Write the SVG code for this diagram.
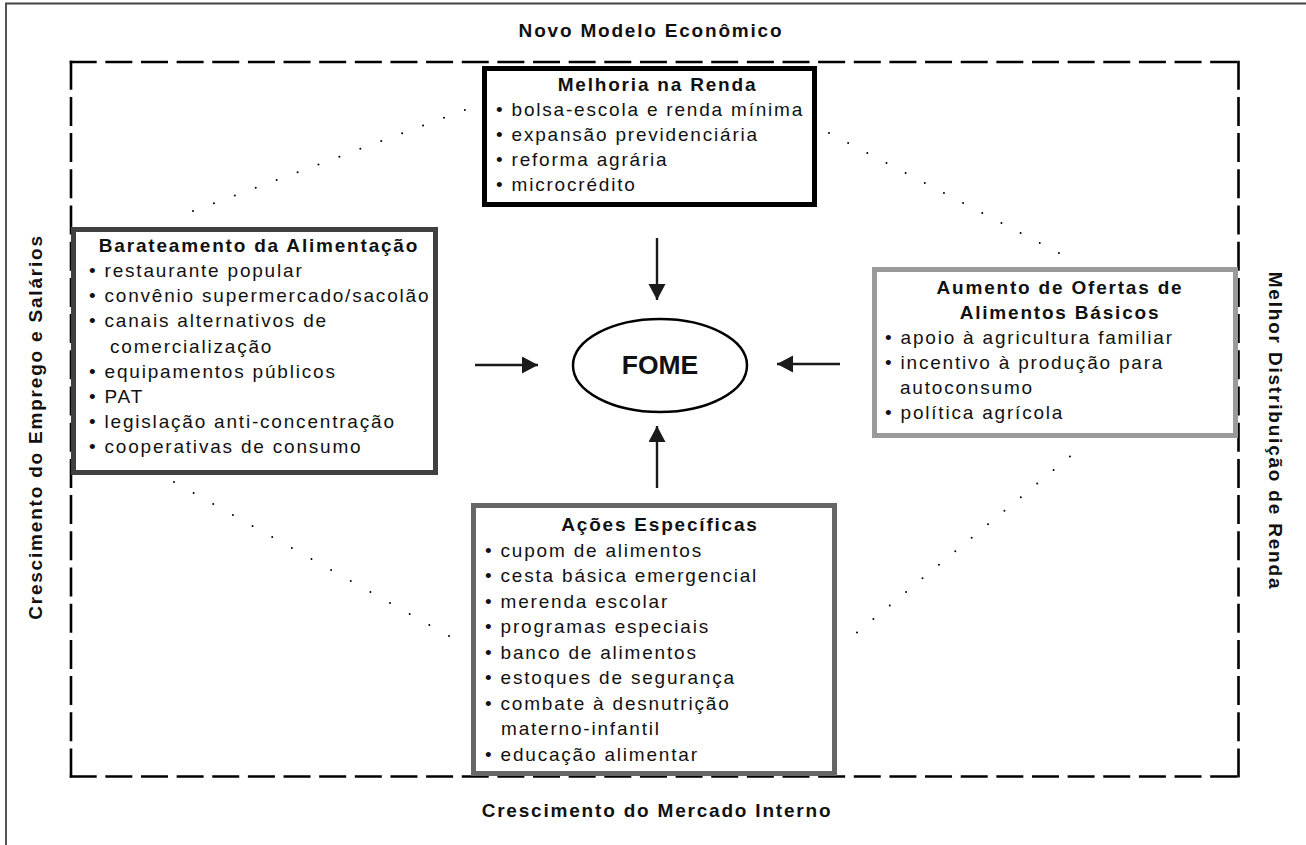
<svg xmlns="http://www.w3.org/2000/svg" width="1306" height="845" viewBox="0 0 1306 845">
<defs>
<style>
.t{font-family:"Liberation Sans",Arial,Helvetica,sans-serif;font-size:19px;letter-spacing:1.8px;fill:#111}
.b{font-weight:bold}
.c{text-anchor:middle}
.box{fill:#fff;stroke-width:5}
.dash{fill:none;stroke:#000;stroke-width:2.6}
.dot{fill:none;stroke:#000;stroke-width:2;stroke-linecap:round}
.arr{fill:none;stroke:#1a1a1a;stroke-width:2.4;marker-end:url(#ah)}
</style>
<marker id="ah" markerUnits="userSpaceOnUse" markerWidth="18" markerHeight="18" refX="16" refY="8.5" orient="auto">
<path d="M0,0 L16,8.5 L0,17 Z" fill="#1a1a1a"/>
</marker>
</defs>
<rect width="1306" height="845" fill="#fff"/>
<g id="frame">
<path d="M6,845 V3.5 H1306" fill="none" stroke="#444" stroke-width="1.8"/>
</g>
<g id="outer-labels">
<text class="t b c" x="651" y="37">Novo Modelo Econômico</text>
<text class="t b c" x="657" y="817">Crescimento do Mercado Interno</text>
<text class="t b c" transform="translate(42,427) rotate(-90)" x="0" y="0">Crescimento do Emprego e Salários</text>
<text class="t b c" transform="translate(1269,431) rotate(90)" x="0" y="0">Melhor Distribuição de Renda</text>
</g>
<g id="dashed-boundary">
<line class="dash" x1="69.7" y1="62" x2="1239.8" y2="62" stroke-dasharray="27 8.64"/>
<line class="dash" x1="69.7" y1="776.5" x2="1239.8" y2="776.5" stroke-dasharray="27 8.64"/>
<line class="dash" x1="71" y1="60.7" x2="71" y2="777.8" stroke-dasharray="29 7.2"/>
<line class="dash" x1="1238.5" y1="60.7" x2="1238.5" y2="777.8" stroke-dasharray="29 7.2"/>
</g>
<g id="dotted-links">
<line class="dot" x1="193" y1="211" x2="465" y2="110" stroke-dasharray="0 22.31"/>
<line class="dot" x1="829" y1="133" x2="1059" y2="253" stroke-dasharray="0 21.61"/>
<line class="dot" x1="174" y1="482" x2="449" y2="636" stroke-dasharray="0 22.51"/>
<line class="dot" x1="857" y1="632.5" x2="1070" y2="456.5" stroke-dasharray="0 21.25"/>
</g>
<g id="melhoria-renda">
<rect class="box" x="484.5" y="68.5" width="330" height="136" stroke="#000"/>
<text class="t b c" x="657.5" y="91">Melhoria na Renda</text>
<text class="t" x="496" y="116">• bolsa-escola e renda mínima</text>
<text class="t" x="496" y="141">• expansão previdenciária</text>
<text class="t" x="496" y="166">• reforma agrária</text>
<text class="t" x="496" y="191">• microcrédito</text>
</g>
<g id="barateamento">
<rect class="box" x="73.5" y="229.5" width="362" height="243" stroke="#404040"/>
<text class="t b c" x="259" y="252">Barateamento da Alimentação</text>
<text class="t" x="89" y="277">• restaurante popular</text>
<text class="t" x="89" y="302.2">• convênio supermercado/sacolão</text>
<text class="t" x="89" y="327.4">• canais alternativos de</text>
<text class="t" x="110" y="352.6">comercialização</text>
<text class="t" x="89" y="377.8">• equipamentos públicos</text>
<text class="t" x="89" y="403">• PAT</text>
<text class="t" x="89" y="428.2">• legislação anti-concentração</text>
<text class="t" x="89" y="453.4">• cooperativas de consumo</text>
</g>
<g id="aumento-ofertas">
<rect class="box" x="874.5" y="269.5" width="361" height="166" stroke="#9a9a9a"/>
<text class="t b c" x="1060" y="294">Aumento de Ofertas de</text>
<text class="t b c" x="1060" y="319">Alimentos Básicos</text>
<text class="t" x="885" y="344">• apoio à agricultura familiar</text>
<text class="t" x="885" y="369">• incentivo à produção para</text>
<text class="t" x="900" y="394">autoconsumo</text>
<text class="t" x="885" y="419">• política agrícola</text>
</g>
<g id="acoes-especificas">
<rect class="box" x="473.5" y="505.5" width="361" height="268" stroke="#666"/>
<text class="t b c" x="660" y="531">Ações Específicas</text>
<text class="t" x="485" y="556.5">• cupom de alimentos</text>
<text class="t" x="485" y="582">• cesta básica emergencial</text>
<text class="t" x="485" y="607.5">• merenda escolar</text>
<text class="t" x="485" y="633">• programas especiais</text>
<text class="t" x="485" y="658.5">• banco de alimentos</text>
<text class="t" x="485" y="684">• estoques de segurança</text>
<text class="t" x="485" y="709.5">• combate à desnutrição</text>
<text class="t" x="501" y="735">materno-infantil</text>
<text class="t" x="485" y="760.5">• educação alimentar</text>
</g>
<g id="fome">
<ellipse cx="660" cy="365.5" rx="87" ry="46.5" fill="#fff" stroke="#000" stroke-width="2.5"/>
<text x="660" y="374" text-anchor="middle" font-family="Liberation Sans, Arial, sans-serif" font-weight="bold" font-size="26.5" fill="#111">FOME</text>
</g>
<g id="connectors">
<line class="arr" x1="657" y1="238" x2="657" y2="300"/>
<line class="arr" x1="475" y1="365" x2="538" y2="365"/>
<line class="arr" x1="840" y1="364" x2="777" y2="364"/>
<line class="arr" x1="657" y1="488" x2="657" y2="426"/>
</g>
</svg>
